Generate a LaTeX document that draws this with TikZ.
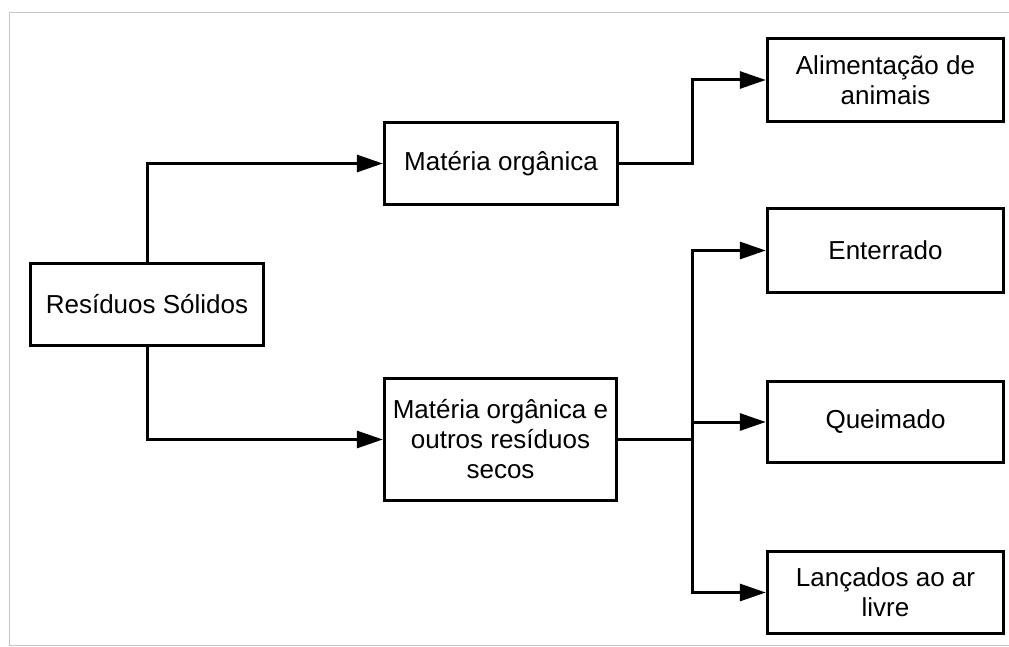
\documentclass[tikz,border=0pt]{standalone}
\usepackage{fontspec}
\setmainfont{Liberation Sans}
\usetikzlibrary{arrows.meta}
\begin{document}
\begin{tikzpicture}[x=1pt,y=-1pt,
  box/.style={draw=black,line width=3.4pt,rectangle,align=center,
    font=\fontsize{26}{30}\selectfont,inner sep=0pt},
  conn/.style={line width=3pt,-{Triangle[length=26pt,width=17pt]}},
  plain/.style={line width=3pt}]
\useasboundingbox (0,0) rectangle (1009,647);
\draw[gray!45,line width=1pt] (1009,13) -- (9,13) -- (9,645) -- (1009,645);
\node[box,minimum width=233pt,minimum height=82pt] (res) at (147,304.5) {Resíduos Sólidos};
\node[box,minimum width=233pt,minimum height=82pt] (mo) at (501,163.5) {Matéria orgânica};
\node[box,minimum width=232pt,minimum height=122pt] (mos) at (500.5,439.5) {Matéria orgânica e\\outros resíduos\\secos};
\node[box,minimum width=236pt,minimum height=83pt] (ali) at (885.5,80) {Alimentação de\\animais};
\node[box,minimum width=236pt,minimum height=84pt] (ent) at (885.5,250.5) {Enterrado};
\node[box,minimum width=236pt,minimum height=81pt] (que) at (885.5,422) {Queimado};
\node[box,minimum width=236pt,minimum height=82pt] (lan) at (885.5,592.5) {Lançados ao ar\\livre};
\coordinate (k) at (692,163);
\coordinate (j) at (692,440);
\draw[conn] (res.north) |- (mo.west);
\draw[conn] (res.south) |- (mos.west);
\draw[conn] (mo.east) -- (mo.east -| k) |- (ali.west);
\draw[plain] (mos.east) -- (mos.east -| j);
\draw[conn] (j) |- (ent.west);
\draw[conn] (j) |- (lan.west);
\draw[conn] (j |- que.west) -- (que.west);
\end{tikzpicture}
\end{document}
